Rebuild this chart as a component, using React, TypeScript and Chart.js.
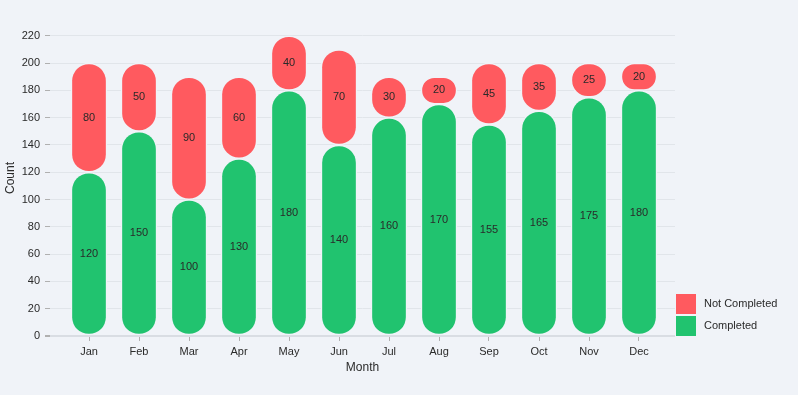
import React, { useEffect, useRef } from "react";
import { Chart, registerables } from "chart.js";

Chart.register(...registerables);

const months = ["Jan", "Feb", "Mar", "Apr", "May", "Jun", "Jul", "Aug", "Sep", "Oct", "Nov", "Dec"];
const completed = [120, 150, 100, 130, 180, 140, 160, 170, 155, 165, 175, 180];
const notCompleted = [80, 50, 90, 60, 40, 70, 30, 20, 45, 35, 25, 20];
const yTicks = [0, 20, 40, 60, 80, 100, 120, 140, 160, 180, 200, 220];

const BG = "#f0f3f8";
const GREEN = "#21c36f";
const RED = "#ff5a5f";
const FONT = "'Liberation Sans', Arial, sans-serif";
const TEXT = "#2a2a2a";

const valueLabels = {
  id: "valueLabels",
  afterDatasetsDraw(chart: any) {
    const ctx = chart.ctx;
    ctx.save();
    ctx.font = `11px ${FONT}`;
    ctx.fillStyle = TEXT;
    ctx.textAlign = "center";
    ctx.textBaseline = "middle";
    chart.data.datasets.forEach((ds: any, di: number) => {
      const meta = chart.getDatasetMeta(di);
      meta.data.forEach((el: any, i: number) => {
        const p = el.getProps(["x", "y", "base"], true);
        ctx.fillText(String(ds.data[i].y), p.x, (p.y + p.base) / 2);
      });
    });
    ctx.restore();
  },
};

const sideLegend = {
  id: "sideLegend",
  afterDraw(chart: any) {
    const ctx = chart.ctx;
    const area = chart.chartArea;
    const items = [...chart.data.datasets].reverse();
    const box = 20;
    const gap = 2;
    const x = area.right + 1;
    let y = area.bottom - items.length * box - (items.length - 1) * gap;
    ctx.save();
    ctx.font = `11px ${FONT}`;
    ctx.textBaseline = "middle";
    ctx.textAlign = "left";
    items.forEach((ds: any) => {
      ctx.fillStyle = ds.backgroundColor;
      ctx.fillRect(x, y, box, box);
      ctx.fillStyle = TEXT;
      ctx.fillText(ds.label, x + box + 8, y + box / 2);
      y += box + gap;
    });
    ctx.restore();
  },
};

export default function App() {
  const ref = useRef<HTMLCanvasElement | null>(null);
  useEffect(() => {
    if (!ref.current) return;
    const radius = { topLeft: 40, topRight: 40, bottomLeft: 40, bottomRight: 40 };
    const chart = new Chart(ref.current, {
      type: "bar",
      data: {
        datasets: [
          {
            label: "Completed",
            data: completed.map((v, i) => ({ x: i, y: v })),
            backgroundColor: GREEN,
            borderColor: BG,
            borderWidth: 1.5,
            borderRadius: radius,
            borderSkipped: false,
            barThickness: 36,
          },
          {
            label: "Not Completed",
            data: notCompleted.map((v, i) => ({ x: i, y: v })),
            backgroundColor: RED,
            borderColor: BG,
            borderWidth: 1.5,
            borderRadius: radius,
            borderSkipped: false,
            barThickness: 36,
          },
        ],
      },
      options: {
        responsive: false,
        animation: false,
        devicePixelRatio: 1,
        layout: { padding: { left: 0, right: 123, top: 20, bottom: 20 } },
        plugins: { legend: { display: false }, tooltip: { enabled: false } },
        scales: {
          x: {
            type: "linear",
            stacked: true,
            offset: false,
            min: -0.78,
            max: 11.72,
            afterFit: (s: any) => {
              s.height = 39;
            },
            afterBuildTicks: (s: any) => {
              s.ticks = months.map((_, i) => ({ value: i }));
            },
            ticks: {
              autoSkip: false,
              maxRotation: 0,
              padding: 4,
              color: TEXT,
              font: { family: FONT, size: 11 },
              callback: (v: any) => months[v] ?? "",
            },
            grid: {
              offset: false,
              drawOnChartArea: false,
              drawTicks: true,
              tickLength: 5,
              tickColor: "#b0b0b0",
            },
            border: { display: false },
            title: {
              display: true,
              text: "Month",
              color: TEXT,
              font: { family: FONT, size: 12 },
              padding: 0,
            },
          },
          y: {
            stacked: true,
            min: 0,
            max: 231.6,
            afterFit: (s: any) => {
              s.width = 50;
            },
            afterBuildTicks: (s: any) => {
              s.ticks = yTicks.map((v) => ({ value: v }));
            },
            ticks: {
              padding: 5,
              color: TEXT,
              font: { family: FONT, size: 11 },
            },
            grid: {
              color: (c: any) => (c.tick && c.tick.value === 0 ? "#d9dde3" : "#e1e5ea"),
              lineWidth: (c: any) => (c.tick && c.tick.value === 0 ? 2 : 1),
              tickLength: 5,
              tickColor: "#b0b0b0",
            },
            border: { display: false },
            title: {
              display: true,
              text: "Count",
              color: TEXT,
              font: { family: FONT, size: 12 },
              padding: { top: 3, bottom: 0 },
            },
          },
        },
      },
      plugins: [valueLabels, sideLegend],
    } as any);
    return () => chart.destroy();
  }, []);
  return (
    <div style={{ position: "absolute", left: 0, top: 0, width: 798, height: 395, background: BG }}>
      <canvas ref={ref} width={798} height={395} style={{ display: "block" }} />
    </div>
  );
}
